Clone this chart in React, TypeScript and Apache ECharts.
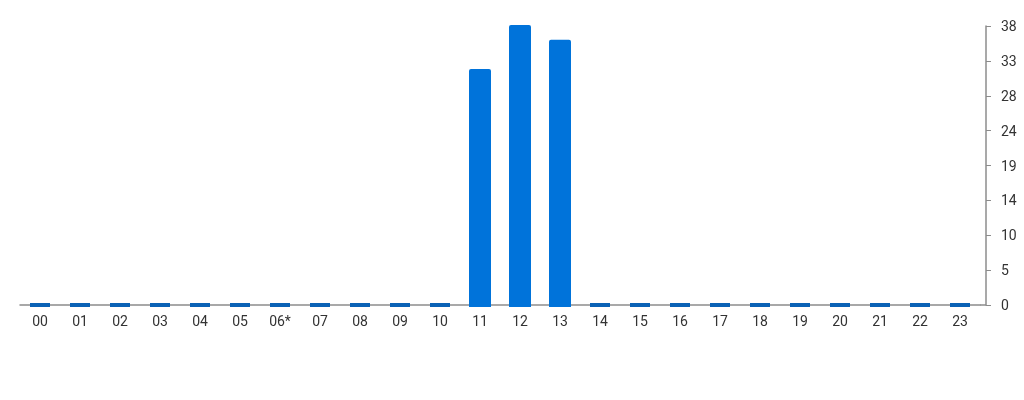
import React, { useEffect, useRef } from 'react';
import * as echarts from 'echarts';

const hours = [
  '00', '01', '02', '03', '04', '05', '06*', '07', '08', '09', '10', '11',
  '12', '13', '14', '15', '16', '17', '18', '19', '20', '21', '22', '23',
];
const counts = [
  0, 0, 0, 0, 0, 0, 0, 0, 0, 0, 0, 32,
  38, 36, 0, 0, 0, 0, 0, 0, 0, 0, 0, 0,
];
const yMax = 38;
const yStep = 4.75;
const yTickLabels = ['0', '5', '10', '14', '19', '24', '28', '33', '38'];

const BAR = '#0073da';
const ZERO_BAR = '#0a62b6';
const AXIS = '#8c8c8c';

const App: React.FC = () => {
  const chartRef = useRef<HTMLDivElement>(null);

  useEffect(() => {
    if (!chartRef.current) return;
    const chart = echarts.init(chartRef.current, undefined, { renderer: 'svg' });

    const gridLeft = 20;
    const gridWidth = 960;

    const option: echarts.EChartsOption = {
      animation: false,
      textStyle: { fontFamily: 'Roboto' },
      grid: { left: gridLeft, width: gridWidth, top: 26, bottom: 95 },
      xAxis: {
        type: 'category',
        data: hours,
        axisLine: { lineStyle: { color: AXIS, width: 1.5 } },
        axisTick: { length: 4, lineStyle: { color: AXIS } },
        axisLabel: { color: '#333', fontSize: 14, margin: 9 },
      },
      yAxis: {
        type: 'value',
        position: 'right',
        offset: 6,
        min: 0,
        max: yMax,
        interval: yStep,
        splitLine: { show: false },
        axisLine: { show: true, lineStyle: { color: AXIS, width: 1.5 } },
        axisTick: { show: true, length: 5, lineStyle: { color: AXIS } },
        axisLabel: {
          color: '#333',
          fontSize: 14,
          margin: 15,
          formatter: (v: number) => yTickLabels[Math.round(v / yStep)] ?? '',
        },
      },
      graphic: [
        {
          type: 'line',
          shape: { x1: gridLeft + gridWidth, y1: 305, x2: gridLeft + gridWidth + 6, y2: 305 },
          style: { stroke: AXIS, lineWidth: 1.5 },
        },
      ],
      series: [
        {
          type: 'custom',
          data: counts.map((v, i) => [i, v]),
          encode: { x: 0, y: 1 },
          renderItem: (params: any, api: any) => {
            const i = api.value(0);
            const v = api.value(1);
            const [x, yTop] = api.coord([i, v]);
            const y0 = api.coord([i, 0])[1];
            const w = api.size([1, 0])[0] * 0.5;
            if (v === 0) {
              return {
                type: 'rect',
                shape: { x: x - w / 2, y: y0 - 2, width: w, height: 4 },
                style: { fill: ZERO_BAR },
              };
            }
            const bw = w + 2;
            return {
              type: 'rect',
              shape: { x: x - bw / 2, y: yTop - 1, width: bw, height: y0 + 3 - yTop, r: [2, 2, 0, 0] },
              style: { fill: BAR },
            };
          },
        } as echarts.CustomSeriesOption,
      ],
    };

    chart.setOption(option);
    return () => {
      chart.dispose();
    };
  }, []);

  return (
    <div
      ref={chartRef}
      style={{ position: 'fixed', left: 0, top: 0, width: '1024px', height: '400px' }}
    />
  );
};

export default App;
